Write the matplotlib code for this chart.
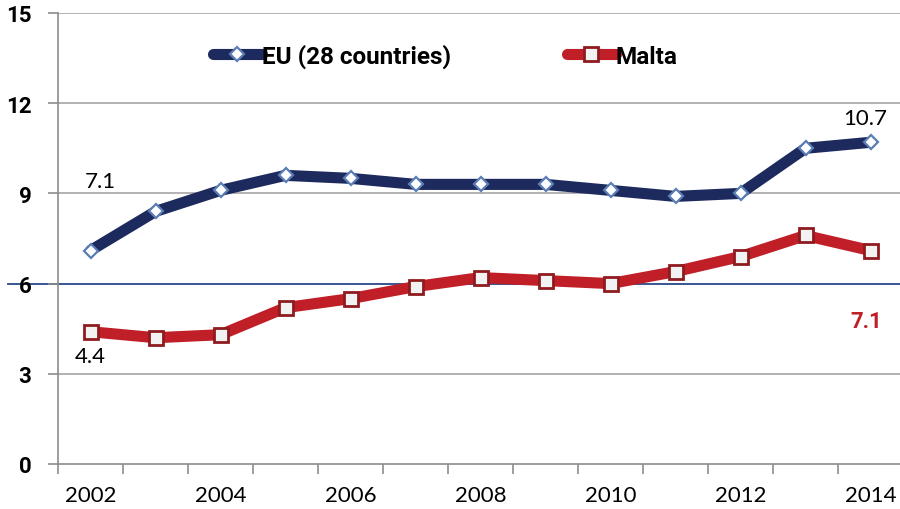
import matplotlib
matplotlib.use("Agg")
import matplotlib.pyplot as plt
import numpy as np

years = [2002, 2003, 2004, 2005, 2006, 2007, 2008, 2009, 2010, 2011, 2012, 2013, 2014]
eu_values = [7.1, 8.4, 9.1, 9.6, 9.5, 9.3, 9.3, 9.3, 9.1, 8.9, 9.0, 10.5, 10.7]
malta_values = [4.4, 4.2, 4.3, 5.2, 5.5, 5.9, 6.2, 6.1, 6.0, 6.4, 6.9, 7.6, 7.1]
year_labels = ["2002", "2004", "2006", "2008", "2010", "2012", "2014"]
y_ticks = [0, 3, 6, 9, 12, 15]
series_names = ["EU (28 countries)", "Malta"]

plt.rcParams['font.family'] = ['Lato', 'DejaVu Sans']
BOLD = {'family': 'Roboto', 'weight': 'bold'}

EU_COL = '#1d2a5d'
MT_COL = '#c01f28'
GRID = '#a6a6a6'

fig = plt.figure(figsize=(9, 5.1), dpi=100)
ax = fig.add_axes([58/900, 1-465/510, 845/900, 451/510])
x = np.arange(len(years))

ax.set_xlim(-0.5, len(years)-0.5)
ax.set_ylim(0, 15)

for yv in y_ticks[1:]:
    if yv == 6:
        continue
    ax.axhline(yv, color=GRID, lw=1.2, zorder=1)
ax.axhline(6, xmin=(8-58)/845, xmax=1, color='#27478a', lw=1.3, zorder=1, clip_on=False)

l1, = ax.plot(x, eu_values, color=EU_COL, lw=8, marker='D', markersize=7,
              markerfacecolor='white', markeredgecolor='#5a7db5', markeredgewidth=1.6,
              solid_capstyle='round', zorder=3, clip_on=False)
l2, = ax.plot(x, malta_values, color=MT_COL, lw=8, marker='s', markersize=10,
              markerfacecolor='#f2f2f2', markeredgecolor='#8e1b1f', markeredgewidth=2,
              solid_capstyle='round', zorder=3, clip_on=False)

for s in ['top', 'right']:
    ax.spines[s].set_visible(False)
for s in ['left', 'bottom']:
    ax.spines[s].set_color('#8c8c8c')
    ax.spines[s].set_linewidth(1.2)

ax.set_yticks(y_ticks)
ax.set_yticklabels([str(v) for v in y_ticks], fontsize=16, **BOLD)
ax.tick_params(axis='y', length=7, width=1.2, color='#8c8c8c', pad=12)

ax.set_xticks(np.arange(-0.5, len(years), 1.0))
ax.set_xticklabels([])
ax.tick_params(axis='x', which='major', length=7, width=1.2, color='#8c8c8c')
lab_pos = [years.index(int(l)) for l in year_labels]
ax.set_xticks(lab_pos, minor=True)
ax.set_xticklabels(year_labels, minor=True)
ax.tick_params(axis='x', which='minor', length=0, pad=15, labelsize=16)

ax.text(0.15, 9.4, f"{eu_values[0]}", fontsize=16, ha='center', va='center')
ax.text(0, 3.6, f"{malta_values[0]}", fontsize=16, ha='center', va='center')
ax.text(len(years)-1.08, 11.5, f"{eu_values[-1]}", fontsize=16, ha='center', va='center')
ax.text(len(years)-1.06, 4.77, f"{malta_values[-1]}", ha='center', va='center',
        color=MT_COL, fontsize=16, **BOLD)

leg1 = ax.legend([l1], [series_names[0]], loc='center left', bbox_to_anchor=(201/900, 1-57/510),
                 bbox_transform=fig.transFigure, frameon=False, borderpad=0, handlelength=2.0,
                 handletextpad=0.0, prop={'family': 'Roboto', 'weight': 'bold', 'size': 17.5})
ax.add_artist(leg1)
leg2 = ax.legend([l2], [series_names[1]], loc='center left', bbox_to_anchor=(555/900, 1-57/510),
                 bbox_transform=fig.transFigure, frameon=False, borderpad=0, handlelength=2.0,
                 handletextpad=0.0, prop={'family': 'Roboto', 'weight': 'bold', 'size': 17.5})

fig.savefig('out.png', dpi=100)
